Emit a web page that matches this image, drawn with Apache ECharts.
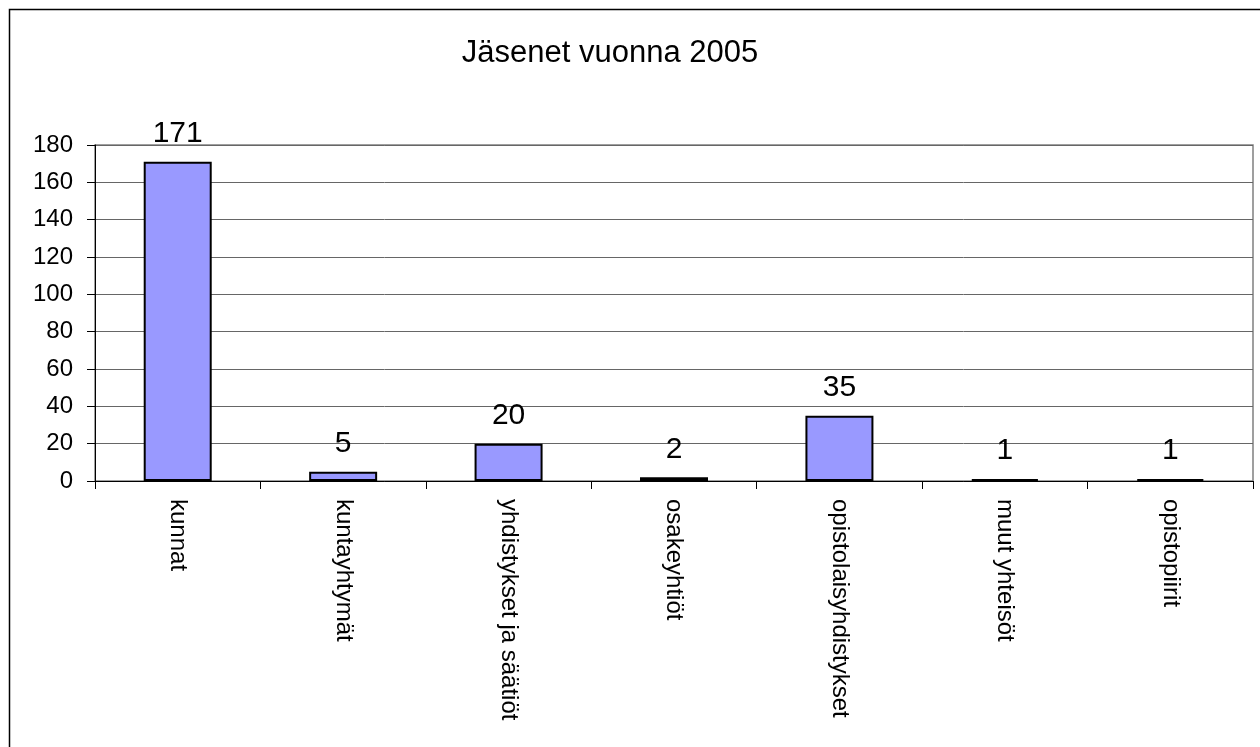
<!DOCTYPE html>
<html>
<head>
<meta charset="utf-8">
<script src="https://cdn.jsdelivr.net/npm/echarts@6/dist/echarts.min.js"></script>
<style>html,body{margin:0;padding:0;background:#fff}#c{width:1260px;height:747px}</style>
</head>
<body>
<div id="c"></div>
<script>
var categories = ["kunnat", "kuntayhtymät", "yhdistykset ja säätiöt", "osakeyhtiöt", "opistolaisyhdistykset", "muut yhteisöt", "opistopiirit"];
var values = [171, 5, 20, 2, 35, 1, 1];
var titleText = "Jäsenet vuonna 2005";
var FONT = "Liberation Sans, Arial, sans-serif";
var chart = echarts.init(document.getElementById('c'), null, {renderer: 'canvas'});
chart.setOption({
  animation: false,
  backgroundColor: '#fff',
  title: {
    text: titleText, left: 605, top: 33, textAlign: 'center',
    textStyle: {fontFamily: FONT, fontSize: 31, fontWeight: 'normal', color: '#000'}
  },
  graphic: [{
    type: 'rect', shape: {x: 9.5, y: 9.5, width: 1300, height: 800},
    style: {fill: 'none', stroke: '#000', lineWidth: 1.5}, z: -1
  }],
  grid: {left: 95, top: 145, right: 7, bottom: 266, show: true, borderColor: '#808080', borderWidth: 1.5, backgroundColor: 'transparent'},
  xAxis: {
    type: 'category', data: categories,
    axisLine: {lineStyle: {color: '#000', width: 1}},
    axisTick: {show: true, length: 8, alignWithLabel: false, lineStyle: {color: '#000'}},
    axisLabel: {rotate: -90, margin: 18, interval: 0, fontFamily: FONT, fontSize: 24, color: '#000'}
  },
  yAxis: {
    type: 'value', min: 0, max: 180, interval: 20,
    axisLine: {show: true, lineStyle: {color: '#000', width: 1}},
    axisTick: {show: true, length: 8, lineStyle: {color: '#000'}},
    splitLine: {show: true, lineStyle: {color: '#666', width: 1}},
    axisLabel: {margin: 22, fontFamily: FONT, fontSize: 24, color: '#000'}
  },
  series: [{
    type: 'bar', data: values, barWidth: 68,
    itemStyle: {color: '#9999ff', borderColor: '#000', borderWidth: 2},
    label: {show: true, position: 'top', distance: 13, fontFamily: FONT, fontSize: 30, color: '#000'}
  }]
});
</script>
</body>
</html>
